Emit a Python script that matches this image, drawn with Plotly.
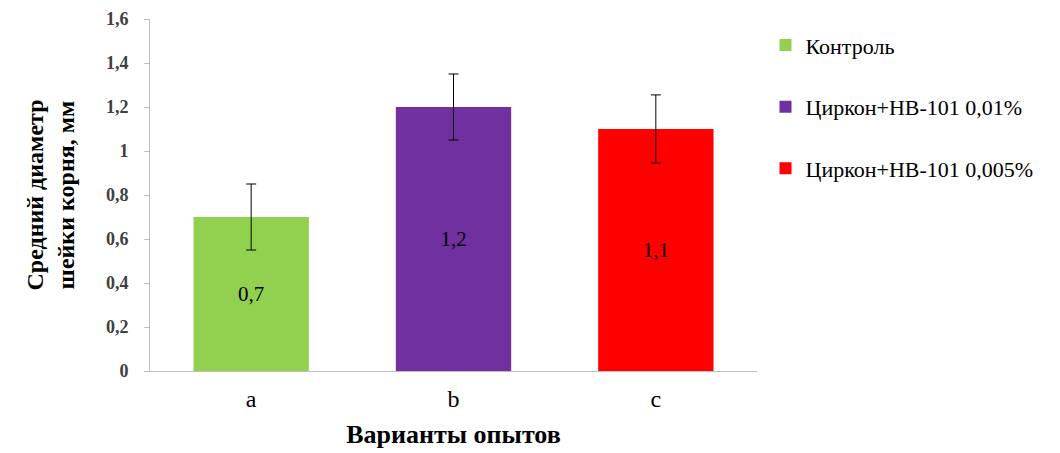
import plotly.graph_objects as go

categories = ["a", "b", "c"]
series_names = ["Контроль", "Циркон+НВ-101 0,01%", "Циркон+НВ-101 0,005%"]
values = [0.7, 1.2, 1.1]
errors = [0.15, 0.15, 0.155]
labels = ["0,7", "1,2", "1,1"]
colors = ["#92d050", "#7030a0", "#ff0000"]

serif = "Liberation Serif, Times New Roman, serif"

fig = go.Figure()
for i in range(len(categories)):
    fig.add_trace(go.Bar(
        x=[categories[i]], y=[values[i]],
        name=series_names[i],
        legendgroup=series_names[i],
        marker=dict(color=colors[i], line=dict(width=0)),
        error_y=dict(type="data", array=[errors[i]], color="black",
                     thickness=1, width=5),
        text=[labels[i]], textposition="inside", insidetextanchor="middle",
        textfont=dict(size=21, color="black"),
        textangle=0,
    ))

# the page body has an 8px margin, so the margins are shifted by 8px
fig.update_layout(
    width=1060, height=453,
    barmode="overlay", bargap=0.43,
    separators=", ",
    paper_bgcolor="white", plot_bgcolor="white",
    margin=dict(l=142, r=311, t=11, b=90),
    font=dict(family=serif, color="black"),
    legend=dict(x=1.014, y=0.985, xanchor="left", yanchor="top",
                font=dict(size=22, color="black"),
                tracegroupgap=30, itemwidth=30),
)
fig.update_xaxes(
    automargin=False,
    showline=True, linecolor="#bfbfbf", linewidth=1,
    ticks="", tickfont=dict(size=24, color="black"), ticklabelstandoff=6,
    title=dict(text="<b>Варианты опытов</b>", font=dict(size=26), standoff=14),
)
fig.update_yaxes(
    automargin=False, ticklabeloverflow="allow",
    range=[0, 1.6], dtick=0.2, showgrid=False, zeroline=False,
    showline=True, linecolor="#bfbfbf", linewidth=1,
    ticks="outside", ticklen=5, tickcolor="#bfbfbf", ticklabelstandoff=12,
    tickfont=dict(size=18, color="#404040", weight="bold"),
    title=dict(text="<b>Средний диаметр<br>шейки корня, мм</b>",
               font=dict(size=24), standoff=24),
)

fig.write_html("out.html")
